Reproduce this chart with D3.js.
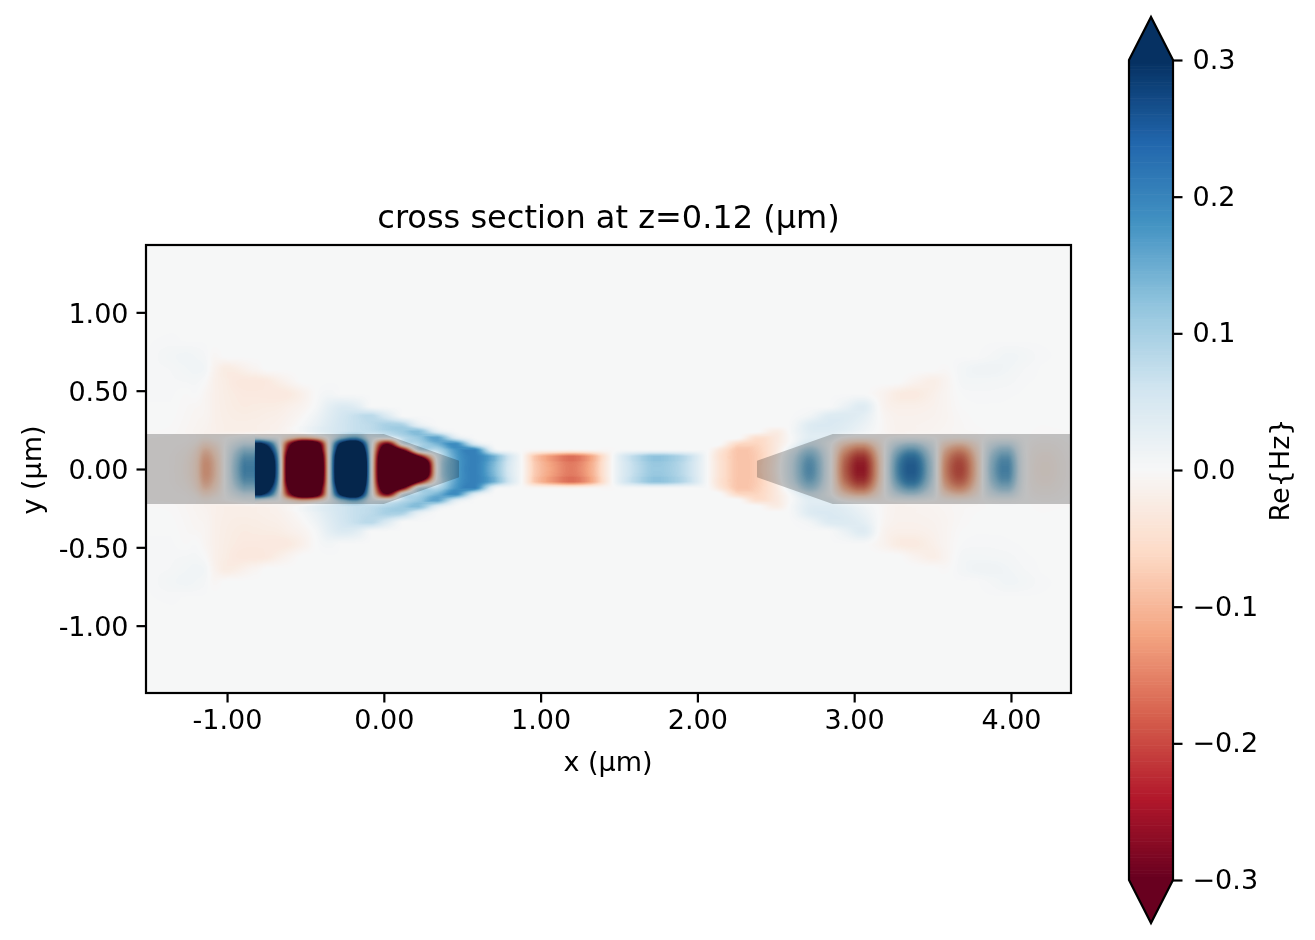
<!DOCTYPE html>
<html>
<head>
<meta charset="utf-8">
<script src="https://cdn.jsdelivr.net/npm/d3@7"></script>
<style>
  body { margin: 0; background: #fff; }
  text { font-family: "DejaVu Sans", sans-serif; fill: #000; }
</style>
</head>
<body>
<script>
// axis ticks and limits (um)
var xLimits = [-1.517, 4.383];
var yLimits = [-1.43, 1.43];
var xTicks = [-1, 0, 1, 2, 3, 4];
var yTicks = [-1, -0.5, 0, 0.5, 1];
var colorTicks = [-0.3, -0.2, -0.1, 0, 0.1, 0.2, 0.3];
var colorLimits = [-0.3, 0.3];

// structure outlines (um): input taper, output taper
var leftGuide = [[-1.517, 0.223], [0, 0.223], [0.48, 0.052], [0.48, -0.052], [0, -0.223], [-1.517, -0.223]];
var rightGuide = [[4.383, 0.223], [2.863, 0.223], [2.38, 0.052], [2.38, -0.052], [2.863, -0.223], [4.383, -0.223]];

// sample positions of the field. y is |y|, the field is mirrored about y=0
var xSamples = [-1.52, -1.36, -1.26, -1.20, -1.14, -1.08, -1.01, -0.95, -0.89, -0.825, -0.82, -0.75, -0.68, -0.61, -0.52, -0.43,
  -0.35, -0.27, -0.18, -0.08, 0.02, 0.12, 0.22, 0.34, 0.46, 0.58, 0.70, 0.80, 0.88, 0.96, 1.08, 1.20, 1.32, 1.44, 1.52, 1.60,
  1.72, 1.84, 1.96, 2.06, 2.14, 2.26, 2.38, 2.50, 2.60, 2.72, 2.84, 2.94, 3.06, 3.18, 3.28, 3.38, 3.50, 3.58, 3.68, 3.78, 3.88,
  3.98, 4.08, 4.20, 4.38];
var ySamples = [0, 0.04, 0.08, 0.12, 0.16, 0.20, 0.24, 0.28, 0.34, 0.40, 0.48, 0.56, 0.64, 0.72, 0.82, 0.95, 1.43];

// Re{Hz} x 1000, one line per x sample, one value per y sample
var hzColumns = [
  [-3, -3, -3, -3, -3, -2, 0, 1, 1, 2, 3, 3, 3, 2, 2, 1, 1],
  [-5, -5, -5, -4, -4, -3, -1, 0, 1, 2, 3, 4, 5, 8, 3, 2, 1],
  [-18, -17, -15, -11, -6, -4, -5, -4, -3, -2, 0, 5, 9, 11, 2, 2, 1],
  [-45, -44, -39, -30, -16, -7, -8, -7, -6, -4, 2, 6, 11, 9, 2, 2, 1],
  [-110, -107, -95, -74, -42, -15, -12, -10, -8, -7, -6, 0, 8, 5, 2, 2, 1],
  [-75, -73, -64, -49, -28, -10, -16, -16, -16, -16, -16, -16, -12, -4, 2, 2, 1],
  [10, 10, 9, 7, 3, -2, -18, -19, -20, -21, -22, -23, -25, 1, 2, 2, 1],
  [100, 97, 86, 66, 36, 6, -18, -20, -22, -24, -26, -30, -22, 1, 2, 2, 1],
  [170, 165, 146, 112, 62, 15, -18, -20, -23, -26, -29, -32, -15, 1, 2, 2, 1],
  [190, 184, 163, 125, 70, 20, -16, -19, -22, -25, -29, -32, -8, 1, 2, 2, 1],
  [700, 690, 640, 520, 330, 40, -16, -19, -22, -25, -29, -32, -8, 1, 2, 2, 1],
  [560, 540, 490, 390, 260, 25, -14, -17, -20, -24, -30, -30, 1, 2, 2, 2, 1],
  [200, 195, 170, 125, 70, 8, -12, -15, -18, -23, -30, -20, 1, 2, 2, 2, 1],
  [-400, -395, -370, -300, -220, -40, -6, -9, -13, -18, -28, -10, 1, 2, 2, 2, 1],
  [-800, -790, -730, -600, -480, -90, 8, 4, -3, -10, -16, 1, 2, 2, 2, 2, 1],
  [-620, -610, -570, -470, -380, -60, 28, 22, 14, 5, 1, 1, 2, 2, 2, 2, 1],
  [0, 0, 0, 0, 0, 12, 45, 42, 36, 28, 8, 2, 2, 2, 2, 2, 1],
  [600, 590, 550, 450, 330, 110, 60, 58, 55, 42, 2, 2, 2, 2, 2, 2, 1],
  [850, 830, 760, 620, 440, 160, 70, 70, 70, 35, 2, 2, 2, 2, 2, 2, 1],
  [30, 30, 30, 30, 30, 40, 75, 80, 82, 2, 2, 2, 2, 2, 2, 2, 1],
  [-650, -640, -590, -460, -280, 20, 90, 100, 43, 2, 2, 2, 2, 2, 2, 2, 1],
  [-800, -760, -620, -300, 20, 80, 110, 95, 2, 2, 2, 2, 2, 2, 2, 2, 1],
  [-720, -650, -300, 40, 90, 115, 130, 30, 2, 2, 2, 2, 2, 2, 2, 2, 1],
  [0, 5, 25, 85, 140, 160, 37, 2, 2, 2, 2, 2, 2, 2, 2, 2, 1],
  [160, 160, 165, 175, 190, 44, 2, 2, 2, 2, 2, 2, 2, 2, 2, 2, 1],
  [205, 205, 205, 205, 47, 2, 2, 2, 2, 2, 2, 2, 2, 2, 2, 2, 1],
  [135, 140, 150, 30, 2, 2, 2, 2, 2, 2, 2, 2, 2, 2, 2, 2, 1],
  [50, 52, 58, 6, 2, 2, 2, 2, 2, 2, 2, 2, 2, 2, 2, 2, 1],
  [0, 0, 0, 0, 1, 2, 2, 2, 2, 2, 2, 2, 2, 2, 2, 2, 1],
  [-75, -77, -82, -8, 1, 2, 2, 2, 2, 2, 2, 2, 2, 2, 2, 2, 1],
  [-125, -128, -136, -12, 1, 2, 2, 2, 2, 2, 2, 2, 2, 2, 2, 2, 1],
  [-155, -158, -168, -15, 1, 2, 2, 2, 2, 2, 2, 2, 2, 2, 2, 2, 1],
  [-110, -113, -120, -10, 1, 2, 2, 2, 2, 2, 2, 2, 2, 2, 2, 2, 1],
  [-15, -15, -17, -3, 1, 2, 2, 2, 2, 2, 2, 2, 2, 2, 2, 2, 1],
  [40, 41, 44, 5, 2, 2, 2, 2, 2, 2, 2, 2, 2, 2, 2, 2, 1],
  [75, 77, 82, 7, 2, 2, 2, 2, 2, 2, 2, 2, 2, 2, 2, 2, 1],
  [112, 115, 122, 9, 2, 2, 2, 2, 2, 2, 2, 2, 2, 2, 2, 2, 1],
  [100, 102, 108, 8, 2, 2, 2, 2, 2, 2, 2, 2, 2, 2, 2, 2, 1],
  [60, 61, 65, 5, 2, 2, 2, 2, 2, 2, 2, 2, 2, 2, 2, 2, 1],
  [4, 4, 4, 2, 2, 2, 2, 2, 2, 2, 2, 2, 2, 2, 2, 2, 1],
  [-42, -42, -45, -35, 1, 2, 2, 2, 2, 2, 2, 2, 2, 2, 2, 2, 1],
  [-85, -85, -85, -85, -60, 1, 2, 2, 2, 2, 2, 2, 2, 2, 2, 2, 1],
  [-75, -75, -75, -72, -65, -50, 2, 2, 2, 2, 2, 2, 2, 2, 2, 2, 1],
  [-20, -22, -25, -30, -32, -32, -23, 2, 2, 2, 2, 2, 2, 2, 2, 2, 1],
  [60, 58, 50, 30, 8, 2, 6, 5, 2, 2, 2, 2, 2, 2, 2, 2, 1],
  [155, 150, 133, 100, 55, 35, 38, 40, 12, 2, 2, 2, 2, 2, 2, 2, 1],
  [20, 20, 18, 14, 12, 28, 40, 45, 40, 2, 2, 2, 2, 2, 2, 2, 1],
  [-160, -155, -138, -105, -60, -5, 30, 38, 42, 19, 2, 2, 2, 2, 2, 2, 1],
  [-235, -228, -203, -155, -88, -15, 12, 20, 30, 38, 2, 2, 2, 2, 2, 2, 1],
  [-30, -30, -26, -20, -12, -5, -3, -3, -4, -8, -10, 2, 2, 2, 2, 2, 1],
  [165, 160, 142, 108, 62, 8, -12, -13, -14, -18, -25, 2, 2, 2, 2, 2, 1],
  [225, 218, 194, 148, 85, 12, -10, -12, -14, -18, -28, -10, 2, 2, 2, 2, 1],
  [70, 68, 60, 46, 26, 2, -8, -10, -12, -14, -18, -20, 2, 2, 2, 2, 1],
  [-120, -116, -103, -80, -45, -10, -6, -7, -8, -8, -8, -10, -2, 2, 2, 2, 1],
  [-190, -184, -163, -125, -72, -15, -3, -3, -2, 0, 2, 6, 7, 2, 2, 2, 1],
  [-70, -68, -60, -46, -26, -6, -2, 0, 1, 2, 4, 8, 13, 2, 2, 2, 1],
  [110, 106, 94, 72, 42, 8, 1, 1, 2, 2, 4, 7, 14, 6, 2, 2, 1],
  [165, 160, 142, 108, 62, 12, 2, 2, 2, 2, 3, 6, 10, 11, 2, 2, 1],
  [15, 15, 13, 10, 6, 2, 1, 1, 1, 1, 2, 3, 5, 8, 2, 2, 1],
  [-20, -19, -17, -13, -8, -3, -1, 0, 0, 1, 1, 2, 2, 3, 2, 2, 1],
  [-5, -5, -4, -3, -2, -1, 0, 1, 1, 1, 1, 2, 2, 2, 2, 2, 1]
];

var width = 1315, height = 940;
var plot = {left: 146, right: 1071, top: 245, bottom: 693};
var bar = {left: 1129, right: 1173, top: 60, bottom: 880, tip: 43};

var x = d3.scaleLinear().domain(xLimits).range([plot.left, plot.right]);
var y = d3.scaleLinear().domain(yLimits).range([plot.bottom, plot.top]);
var colorY = d3.scaleLinear().domain(colorLimits).range([bar.bottom, bar.top]);

// RdBu, the same 11 stops as the matplotlib map, cut into 256 levels
var rdbu = d3.scaleLinear()
    .domain(d3.range(11).map(function(i) { return colorLimits[0] + i * 0.06; }))
    .range(d3.schemeRdBu[11]);
var levels = d3.range(256).map(function(i) {
    return colorLimits[0] + (i + 0.5) / 256 * (colorLimits[1] - colorLimits[0]);
});
var levelColors = levels.map(function(v) { return d3.rgb(rdbu(v)); });

var xIndex = d3.scaleLinear().domain(xSamples).range(d3.range(xSamples.length)).clamp(true);
var yIndex = d3.scaleLinear().domain(ySamples).range(d3.range(ySamples.length)).clamp(true);

// catmull-rom between b and c, kept inside b..c so it can't ring at the jump in the field
function cubic(a, b, c, d, t) {
    var v = b + 0.5 * t * (c - a + t * (2 * a - 5 * b + 4 * c - d + t * (3 * (b - c) + d - a)));
    return Math.max(Math.min(b, c), Math.min(Math.max(b, c), v));
}

function inColumn(col, fy) {
    var j = Math.min(Math.floor(fy), ySamples.length - 2), t = fy - j;
    // j-1 at y=0 is the mirrored row
    var above = j > 0 ? col[j - 1] : col[1];
    var below = j + 2 < col.length ? col[j + 2] : col[j + 1];
    return cubic(above, col[j], col[j + 1], below, t);
}

function hzAt(ux, uy) {
    var fx = xIndex(ux), fy = yIndex(Math.abs(uy));
    var i = Math.min(Math.floor(fx), xSamples.length - 2), t = fx - i;
    var i0 = Math.max(i - 1, 0), i3 = Math.min(i + 2, xSamples.length - 1);
    return cubic(inColumn(hzColumns[i0], fy), inColumn(hzColumns[i], fy),
        inColumn(hzColumns[i + 1], fy), inColumn(hzColumns[i3], fy), t) / 1000;
}

// paint the field to a canvas and put it in the svg as an image
var fieldW = plot.right - plot.left, fieldH = plot.bottom - plot.top;
var canvas = document.createElement("canvas");
canvas.width = fieldW;
canvas.height = fieldH;
var ctx = canvas.getContext("2d");
var image = ctx.createImageData(fieldW, fieldH);
for (var py = 0; py < fieldH; py++) {
    var uy = y.invert(plot.top + py + 0.5);
    for (var px = 0; px < fieldW; px++) {
        var v = hzAt(x.invert(plot.left + px + 0.5), uy);
        var level = Math.floor((v - colorLimits[0]) / (colorLimits[1] - colorLimits[0]) * 256);
        var c = levelColors[Math.max(0, Math.min(255, level))];
        var k = (py * fieldW + px) * 4;
        image.data[k] = c.r;
        image.data[k + 1] = c.g;
        image.data[k + 2] = c.b;
        image.data[k + 3] = 255;
    }
}
ctx.putImageData(image, 0, 0);

var svg = d3.select("body").append("svg")
    .attr("width", width)
    .attr("height", height)
    .style("display", "block");

svg.append("image")
    .attr("x", plot.left)
    .attr("y", plot.top)
    .attr("width", fieldW)
    .attr("height", fieldH)
    .attr("preserveAspectRatio", "none")
    .attr("href", canvas.toDataURL("image/png"));

// structures darken whatever field is under them
var outline = d3.line()
    .x(function(d) { return x(d[0]); })
    .y(function(d) { return y(d[1]); });

svg.selectAll(".structure")
    .data([leftGuide, rightGuide])
    .enter().append("path")
    .attr("class", "structure")
    .attr("d", function(d) { return outline(d) + "Z"; })
    .attr("fill", "#c6c6c6")
    .style("mix-blend-mode", "multiply");

// frame
svg.append("rect")
    .attr("x", plot.left)
    .attr("y", plot.top)
    .attr("width", fieldW)
    .attr("height", fieldH)
    .attr("fill", "none")
    .attr("stroke", "#000")
    .attr("stroke-width", 2.2);

function styleAxis(g) {
    g.select(".domain").remove();
    g.selectAll(".tick line").attr("stroke", "#000").attr("stroke-width", 2.2);
    g.selectAll(".tick text").style("font-size", "27px");
}

// tick labels keep a plain hyphen on the position axes
function plainFormat(d) { return d.toFixed(2); }

svg.append("g")
    .attr("transform", "translate(0," + plot.bottom + ")")
    .call(d3.axisBottom(x).tickValues(xTicks).tickFormat(plainFormat).tickSize(9.5).tickPadding(7))
    .call(styleAxis);

svg.append("g")
    .attr("transform", "translate(" + plot.left + ",0)")
    .call(d3.axisLeft(y).tickValues(yTicks).tickFormat(plainFormat).tickSize(9.5).tickPadding(8))
    .call(styleAxis)
    .selectAll(".tick text").attr("dy", "0.36em");

svg.append("text")
    .attr("x", 608.5)
    .attr("y", 228)
    .attr("text-anchor", "middle")
    .style("font-size", "32px")
    .text("cross section at z=0.12 (µm)");

svg.append("text")
    .attr("x", 608)
    .attr("y", 771)
    .attr("text-anchor", "middle")
    .style("font-size", "27px")
    .text("x (µm)");

svg.append("text")
    .attr("transform", "translate(41,470) rotate(-90)")
    .attr("text-anchor", "middle")
    .style("font-size", "27px")
    .text("y (µm)");

// colorbar: one rect per level, plus the two extension tips
var barStep = (bar.bottom - bar.top) / 256;
svg.selectAll(".level")
    .data(levels)
    .enter().append("rect")
    .attr("class", "level")
    .attr("x", bar.left)
    .attr("width", bar.right - bar.left)
    .attr("y", function(d) { return colorY(d) - barStep / 2 - 0.3; })
    .attr("height", barStep + 0.6)
    .attr("fill", function(d, i) { return levelColors[i]; });

var barMid = (bar.left + bar.right) / 2;
svg.append("path")
    .attr("d", d3.line()([[bar.left, bar.top], [barMid, bar.top - bar.tip], [bar.right, bar.top]]) + "Z")
    .attr("fill", levelColors[255]);
svg.append("path")
    .attr("d", d3.line()([[bar.left, bar.bottom], [barMid, bar.bottom + bar.tip], [bar.right, bar.bottom]]) + "Z")
    .attr("fill", levelColors[0]);

svg.append("path")
    .attr("d", d3.line()([[bar.left, bar.top], [barMid, bar.top - bar.tip], [bar.right, bar.top],
        [bar.right, bar.bottom], [barMid, bar.bottom + bar.tip], [bar.left, bar.bottom]]) + "Z")
    .attr("fill", "none")
    .attr("stroke", "#000")
    .attr("stroke-width", 2.2);

svg.append("g")
    .attr("transform", "translate(" + bar.right + ",0)")
    .call(d3.axisRight(colorY).tickValues(colorTicks).tickFormat(d3.format(".1f")).tickSize(9.5).tickPadding(10))
    .call(styleAxis);

svg.append("text")
    .attr("transform", "translate(1289,470) rotate(-90)")
    .attr("text-anchor", "middle")
    .style("font-size", "27px")
    .text("Re{Hz}");
</script>
</body>
</html>
